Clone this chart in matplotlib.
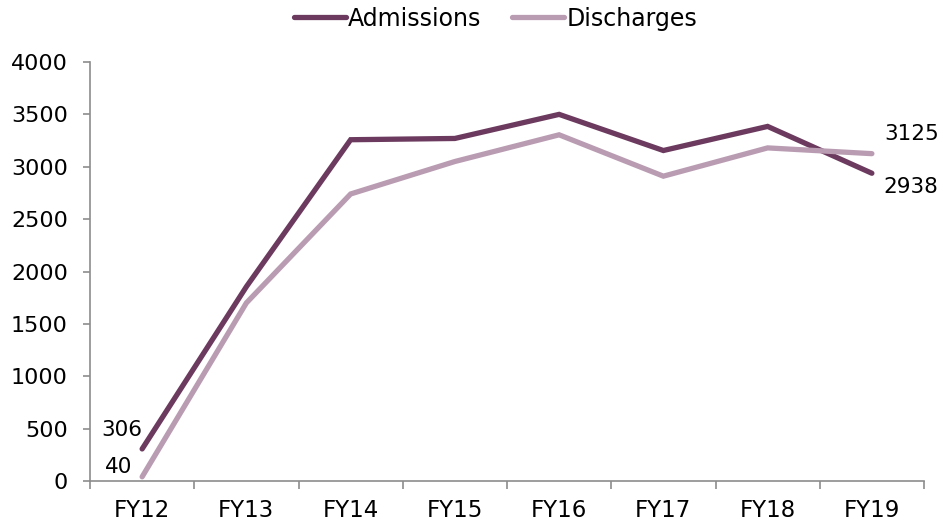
import matplotlib
matplotlib.use("Agg")
import matplotlib.pyplot as plt
import numpy as np

years = ["FY12", "FY13", "FY14", "FY15", "FY16", "FY17", "FY18", "FY19"]
admissions = [306, 1855, 3258, 3270, 3500, 3155, 3385, 2938]
discharges = [40, 1700, 2740, 3050, 3305, 2910, 3180, 3125]

adm_color = "#6B3A5E"
dis_color = "#B99CB2"
axis_color = "#8C8C8C"

fig = plt.figure(figsize=(9.42, 5.29), dpi=100)
ax = fig.add_axes([90/942, (529-481)/529, (924-90)/942, (481-62)/529])

x = np.arange(len(years))
ax.plot(x, admissions, color=adm_color, lw=3.8, solid_capstyle="round", solid_joinstyle="miter", label="Admissions")
ax.plot(x, discharges, color=dis_color, lw=3.8, solid_capstyle="round", solid_joinstyle="miter", label="Discharges")

ax.set_xlim(-0.5, len(years) - 0.5)
ax.set_ylim(0, 4000)
ax.set_yticks(range(0, 4001, 500))
ax.set_xticks(x)
ax.set_xticklabels(years)
ax.set_xticks(np.arange(-0.5, len(years)), minor=True)

for s in ["top", "right"]:
    ax.spines[s].set_visible(False)
for s in ["left", "bottom"]:
    ax.spines[s].set_color(axis_color)
    ax.spines[s].set_linewidth(1.2)

ax.tick_params(axis="x", which="major", length=0, pad=13, labelsize=16.5)
ax.tick_params(axis="x", which="minor", length=6, width=1.2, color=axis_color, direction="out")
ax.tick_params(axis="y", length=5, width=1.2, color=axis_color, pad=11, labelsize=16)

fs = 15.5
ax.annotate(str(admissions[0]), (x[0], admissions[0]), xytext=(0, 14), textcoords="offset points",
            ha="right", va="center", fontsize=fs)
ax.annotate(str(discharges[0]), (x[0], discharges[0]), xytext=(-7, 7), textcoords="offset points",
            ha="right", va="center", fontsize=fs)
ax.annotate(str(discharges[-1]), (x[-1], discharges[-1]), xytext=(9, 14), textcoords="offset points",
            ha="left", va="center", fontsize=fs)
ax.annotate(str(admissions[-1]), (x[-1], admissions[-1]), xytext=(8, -10), textcoords="offset points",
            ha="left", va="center", fontsize=fs)

fig.legend(loc="center", bbox_to_anchor=(0.526, 0.965), ncol=2, frameon=False, fontsize=17,
           handlelength=2.2, handletextpad=0.1, columnspacing=1.3)

fig.savefig("out.png", dpi=100)
